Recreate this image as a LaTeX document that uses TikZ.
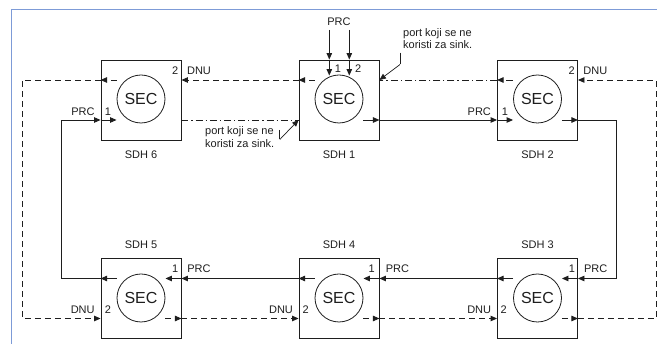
\documentclass[tikz,border=0pt]{standalone}
\usepackage{fontspec}
\setmainfont{Liberation Sans}
\usetikzlibrary{arrows.meta,calc}
\definecolor{frameblue}{RGB}{125,155,215}
\definecolor{ink}{RGB}{30,30,30}
\begin{document}
\begin{tikzpicture}[x=1pt,y=-1pt,
  sdh/.style={draw=ink, fill=white, minimum width=80pt, minimum height=80pt, inner sep=0pt, line width=0.9pt},
  sec/.style={circle, draw=ink, line width=0.8pt, minimum size=48pt, inner sep=0pt, font=\fontsize{16}{18}\selectfont, text=ink},
  ln/.style={draw=ink, line width=0.9pt},
  tip/.style={-{Triangle[length=6.5pt,width=5.5pt]}},
  dsh/.style={dash pattern=on 6pt off 4pt},
  dsd/.style={dash pattern=on 7pt off 3pt on 1.2pt off 3pt},
  lbl/.style={font=\fontsize{11}{12.7}\selectfont, inner sep=0pt, text=ink},
]
\useasboundingbox (0,0) rectangle (657,344);
\draw[frameblue, line width=1pt] (11,344) -- (11,9.5) -- (657,9.5);

% boxes
\node[sdh] (b6) at (141,100) {};
\node[sdh] (b1) at (339,100) {};
\node[sdh] (b2) at (537.5,100) {};
\node[sdh] (b5) at (141,298.5) {};
\node[sdh] (b4) at (339,298.5) {};
\node[sdh] (b3) at (537.5,298.5) {};
\node[sec] (c6) at (141,99) {SEC};
\node[sec] (c1) at (339,99) {SEC};
\node[sec] (c2) at (537.5,99) {SEC};
\node[sec] (c5) at (141,298) {SEC};
\node[sec] (c4) at (339,298) {SEC};
\node[sec] (c3) at (537.5,298) {SEC};

\foreach \b in {1,...,6} {
  \coordinate (b\b-wu) at ($(b\b.west)+(0,-20)$);
  \coordinate (b\b-wd) at ($(b\b.west)+(0,20)$);
  \coordinate (b\b-eu) at ($(b\b.east)+(0,-20)$);
  \coordinate (b\b-ed) at ($(b\b.east)+(0,20)$);
  \coordinate (b\b-iwu) at ($(b\b.west)+(16,-20)$);
  \coordinate (b\b-iwd) at ($(b\b.west)+(16,20)$);
  \coordinate (b\b-ieu) at ($(b\b.east)+(-16,-20)$);
  \coordinate (b\b-ied) at ($(b\b.east)+(-16,20)$);
}

% corner coordinates
\coordinate (L1) at (61.7,120);
\coordinate (L2) at (61.7,278.5);
\coordinate (R1) at (616.7,120);
\coordinate (R2) at (616.7,278.5);
\coordinate (DL1) at (22,80);
\coordinate (DL2) at (22,318.5);
\coordinate (DR1) at (656,80);
\coordinate (DR2) at (656,318.5);
\coordinate (p1) at (329.3,30);
\coordinate (p2) at (349.3,30);

% ---- dashed (DNU) connections
\draw[ln,dsh,tip] (b1-iwu) -- (b1-wu);
\draw[ln,dsh,tip] (b1-wu) -- (b6-eu);
\draw[ln,dsh,tip] (b6-iwu) -- (b6-wu);
\draw[ln,dsh,tip] (b6-wu) -- (DL1) -- (DL2) -- (b5-wd);
\draw[ln,dsh,tip] (b5-ied) -- (b5-ed);
\draw[ln,dsh,tip] (b5-ed) -- (b4-wd);
\draw[ln,dsh,tip] (b4-ied) -- (b4-ed);
\draw[ln,dsh,tip] (b4-ed) -- (b3-wd);
\draw[ln,dsh,tip] (b3-ied) -- (b3-ed);
\draw[ln,dsh,tip] (b3-ed) -- (DR2) -- (DR1) -- (b2-eu);

% ---- dash-dot (unused) connections
\draw[ln,dsd,tip] (b2-iwu) -- (b2-wu);
\draw[ln,dsd] (b2-wu) -- (b1-eu);
\draw[ln,dsd] (b6-ed) -- (b1-wd);

% ---- solid (PRC) connections
\draw[ln,tip] (p1) -- (p1 |- b1.north);
\draw[ln,tip] (p1 |- b1.north) -- ($(p1 |- b1.north)+(0,16)$);
\draw[ln,tip] (p2) -- (p2 |- b1.north);
\draw[ln,tip] (p2 |- b1.north) -- ($(p2 |- b1.north)+(0,16)$);

\draw[ln,tip] (b1-ied) -- (b1-ed);
\draw[ln,tip] (b1-ed) -- (b2-wd);
\draw[ln,tip] (b2-wd) -- (b2-iwd);

\draw[ln,tip] (b2-ied) -- (b2-ed);
\draw[ln,tip] (b2-ed) -- (R1) -- (R2) -- (b3-eu);
\draw[ln,tip] (b3-eu) -- (b3-ieu);

\draw[ln,tip] (b3-iwu) -- (b3-wu);
\draw[ln,tip] (b3-wu) -- (b4-eu);
\draw[ln,tip] (b4-eu) -- (b4-ieu);

\draw[ln,tip] (b4-iwu) -- (b4-wu);
\draw[ln,tip] (b4-wu) -- (b5-eu);
\draw[ln,tip] (b5-eu) -- (b5-ieu);

\draw[ln,tip] (b5-iwu) -- (b5-wu);
\draw[ln,tip] (b5-wu) -- (L2) -- (L1) -- (b6-wd);
\draw[ln,tip] (b6-wd) -- (b6-iwd);

% ---- callouts
\node[lbl, align=left, anchor=base west] (t1) at (403,49) {port koji se ne\\koristi za sink.};
\coordinate (k1a) at (400,52.7);
\coordinate (k1b) at (400,64.5);
\draw[ln, line width=0.7pt] (k1a) -- (k1b);
\draw[ln, line width=0.7pt, tip] (k1b) -- (b1-eu);

\node[lbl, align=left, anchor=base west] (t2) at (205,147.5) {port koji se ne\\koristi za sink.};
\coordinate (k2a) at (279.8,130);
\coordinate (k2b) at (279.8,139.5);
\draw[ln, line width=0.7pt] (k2a) -- (k2b);
\draw[ln, line width=0.7pt, tip] (k2b) -- (b1-wd);

% ---- labels
\node[lbl] (n6) at (141,155) {SDH 6};
\node[lbl] (n1) at (339,155) {SDH 1};
\node[lbl] (n2) at (537.5,155) {SDH 2};
\node[lbl] (n5) at (141,244.5) {SDH 5};
\node[lbl] (n4) at (339,244.5) {SDH 4};
\node[lbl] (n3) at (537.5,244.5) {SDH 3};

\node[lbl] (prc1) at (339,21.7) {PRC};
\node[lbl] at (337.9,68.3) {1};
\node[lbl] at (358.3,68.3) {2};

\node[lbl] at (175.2,71) {2};
\node[lbl] at (199,71) {DNU};
\node[lbl] at (83,112) {PRC};
\node[lbl] at (108,112) {1};

\node[lbl] at (479.3,112) {PRC};
\node[lbl] at (505,112) {1};
\node[lbl] at (571.7,71) {2};
\node[lbl] at (595.3,71) {DNU};

\node[lbl] at (175.3,269) {1};
\node[lbl] at (199,269) {PRC};
\node[lbl] at (82.7,309.3) {DNU};
\node[lbl] at (108,309.3) {2};

\node[lbl] at (371.7,269) {1};
\node[lbl] at (397.5,269) {PRC};
\node[lbl] at (281,309.3) {DNU};
\node[lbl] at (305.8,309.3) {2};

\node[lbl] at (572,269) {1};
\node[lbl] at (595.7,269) {PRC};
\node[lbl] at (479.2,309.3) {DNU};
\node[lbl] at (503.8,309.3) {2};
\end{tikzpicture}
\end{document}
